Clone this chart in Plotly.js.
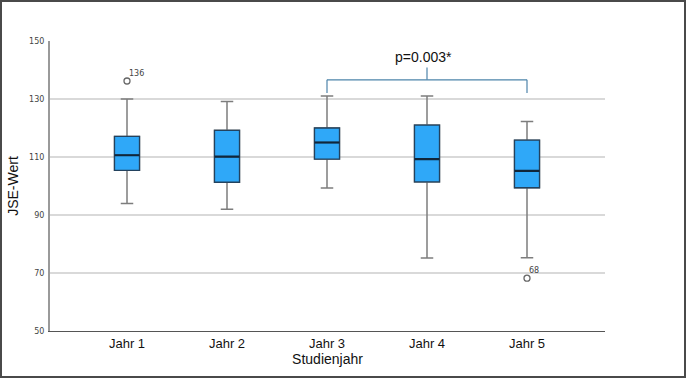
<!DOCTYPE html>
<html>
<head>
<meta charset="utf-8">
<script src="https://cdn.plot.ly/plotly-3.0.1.min.js"></script>
<style>
  html, body { margin: 0; padding: 0; background: #fff; }
  #frame { width: 682px; height: 374px; border: 2px solid #4a4a4a; overflow: hidden; }
  #chart { width: 682px; height: 374px; }
</style>
</head>
<body>
<div id="frame"><div id="chart"></div></div>
<script>
// ---- data ----
const categories = ['Jahr 1', 'Jahr 2', 'Jahr 3', 'Jahr 4', 'Jahr 5'];
const lowerWhisker = [94, 92, 99.3, 75.2, 75.3];
const q1Values = [105.4, 101.3, 109.3, 101.4, 99.4];
const medianValues = [110.6, 110.1, 115, 109.3, 105.2];
const q3Values = [117.1, 119.2, 120, 121, 115.8];
const upperWhisker = [130, 129.1, 131, 131, 122.2];
const outlierCategories = ['Jahr 1', 'Jahr 5'];
const outlierValues = [136.2, 68.2];
const outlierLabels = ['136', '68'];
const yTickValues = [50, 70, 90, 110, 130, 150];
const yTickLabels = ['50', '70', '90', '110', '130', '150'];
const bracketGroups = ['Jahr 3', 'Jahr 5'];
const bracketLevels = [132.1, 136.6, 140.9]; // leg bottom, bar, centre tick top
const pLabel = 'p=0.003*';
const pLabelY = 144.6;

// ---- traces ----
const whiskerTrace = {
  type: 'box', x: categories,
  lowerfence: lowerWhisker, q1: q1Values, median: medianValues, q3: q3Values, upperfence: upperWhisker,
  width: 0.25, whiskerwidth: 0.5,
  line: { color: '#7d7d7d', width: 1.5 }, fillcolor: '#2fa8f8',
  boxpoints: false, hoverinfo: 'skip', showlegend: false
};
const boxTrace = {
  type: 'box', x: categories,
  lowerfence: q1Values, q1: q1Values, median: medianValues, q3: q3Values, upperfence: q3Values,
  width: 0.25, whiskerwidth: 0,
  line: { color: '#23425e', width: 1.3 }, fillcolor: '#2fa8f8',
  boxpoints: false, hoverinfo: 'skip', showlegend: false
};
const medianTrace = {
  type: 'box', x: categories,
  lowerfence: medianValues, q1: medianValues, median: medianValues, q3: medianValues, upperfence: medianValues,
  width: 0.25, whiskerwidth: 0,
  line: { color: '#10263a', width: 2.2 }, fillcolor: 'rgba(0,0,0,0)',
  boxpoints: false, hoverinfo: 'skip', showlegend: false
};
const outlierTrace = {
  type: 'scatter', mode: 'markers', x: outlierCategories, y: outlierValues,
  marker: { symbol: 'circle-open', size: 6, color: '#666', line: { width: 1.3, color: '#666' } },
  hoverinfo: 'skip', showlegend: false, cliponaxis: false
};

const bx0 = categories.indexOf(bracketGroups[0]);
const bx1 = categories.indexOf(bracketGroups[1]);
const bmid = (bx0 + bx1) / 2;
const bracketLine = { color: '#4d84aa', width: 1.2 };
const shapes = [
  { type: 'line', xref: 'x', yref: 'y', x0: bx0, x1: bx1, y0: bracketLevels[1], y1: bracketLevels[1], line: bracketLine },
  { type: 'line', xref: 'x', yref: 'y', x0: bx0, x1: bx0, y0: bracketLevels[0], y1: bracketLevels[1], line: bracketLine },
  { type: 'line', xref: 'x', yref: 'y', x0: bx1, x1: bx1, y0: bracketLevels[0], y1: bracketLevels[1], line: bracketLine },
  { type: 'line', xref: 'x', yref: 'y', x0: bmid, x1: bmid, y0: bracketLevels[1], y1: bracketLevels[2], line: bracketLine }
];

const annotations = [{
  xref: 'x', yref: 'y', x: bmid, y: pLabelY, text: pLabel, showarrow: false, xshift: -4,
  font: { family: 'Liberation Sans, Arial', size: 14, color: '#111' }
}];
outlierCategories.forEach((c, i) => {
  annotations.push({
    xref: 'x', yref: 'y', x: c, y: outlierValues[i], text: outlierLabels[i], showarrow: false,
    xanchor: 'left', yanchor: 'middle', xshift: 0, yshift: 8,
    font: { family: 'DejaVu Sans', size: 8, color: '#444' }
  });
});

const layout = {
  width: 682, height: 374,
  margin: { l: 48, r: 79, t: 39, b: 45 },
  paper_bgcolor: '#fff', plot_bgcolor: '#fff',
  boxmode: 'overlay',
  showlegend: false,
  font: { family: 'Liberation Sans, Arial, sans-serif', color: '#000' },
  xaxis: {
    type: 'category', range: [-0.77, 4.78],
    showgrid: false, zeroline: false,
    showline: true, linecolor: '#555', linewidth: 1,
    ticks: '', tickfont: { family: 'Liberation Sans, Arial', size: 13, color: '#111' },
    title: { text: 'Studienjahr', font: { family: 'Liberation Sans, Arial', size: 14, color: '#111' }, standoff: 3 },
    fixedrange: true
  },
  yaxis: {
    range: [50, 150], tickvals: yTickValues, ticktext: yTickLabels,
    showgrid: true, gridcolor: '#d9d9d9', gridwidth: 1.3,
    zeroline: false, showline: true, linecolor: '#9a9a9a', linewidth: 2,
    ticks: '', ticklabelstandoff: 2,
    tickfont: { family: 'DejaVu Sans', size: 8, color: '#444' },
    title: { text: 'JSE-Wert', font: { family: 'Liberation Sans, Arial', size: 14, color: '#111' }, standoff: 7 },
    fixedrange: true
  },
  shapes: shapes,
  annotations: annotations
};

Plotly.newPlot('chart', [whiskerTrace, boxTrace, medianTrace, outlierTrace], layout, { displayModeBar: false, staticPlot: true });
</script>
</body>
</html>
